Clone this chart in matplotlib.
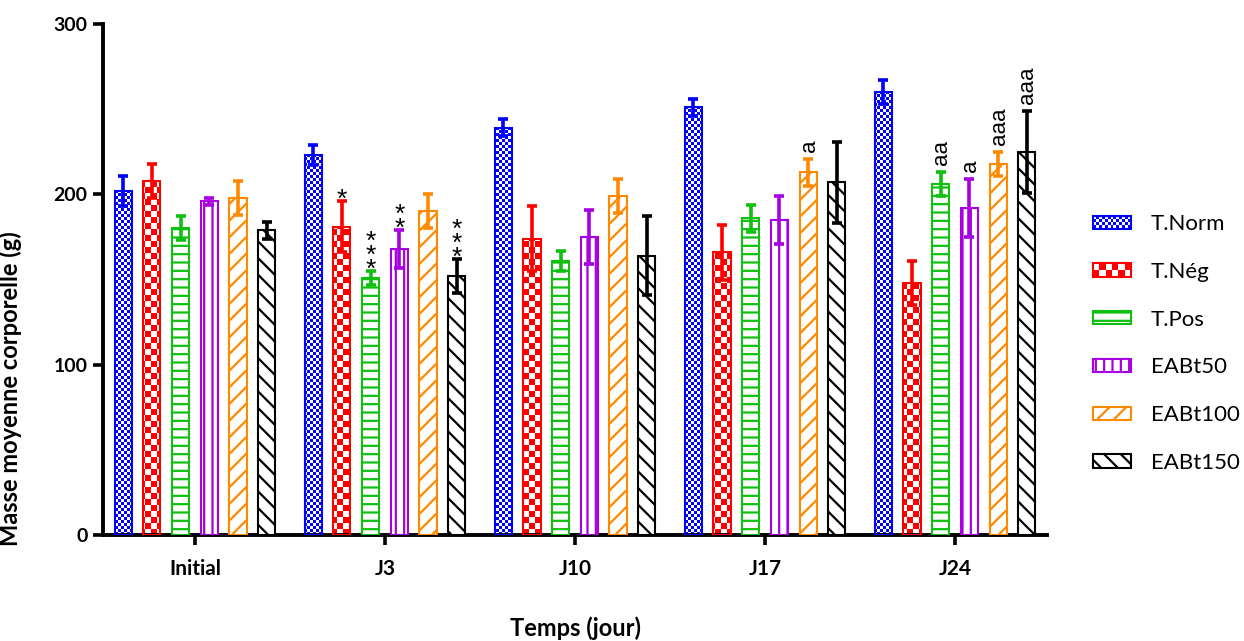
import numpy as np
import matplotlib
matplotlib.use("Agg")
import matplotlib.pyplot as plt
from matplotlib.patches import Rectangle
from matplotlib.path import Path
from matplotlib.legend_handler import HandlerBase

# ---------------- data ----------------
categories = ["Initial", "J3", "J10", "J17", "J24"]
series_names = ["T.Norm", "T.Nég", "T.Pos", "EABt50", "EABt100", "EABt150"]

t_norm = [202, 223, 239, 251, 260]
t_norm_err = [9, 6, 5, 5, 7]
t_neg = [208, 181, 174, 166, 148]
t_neg_err = [10, 15, 19, 16, 13]
t_pos = [180, 151, 161, 186, 206]
t_pos_err = [7, 4, 6, 8, 7]
eabt50 = [196, 168, 175, 185, 192]
eabt50_err = [2, 11, 16, 14, 17]
eabt100 = [198, 190, 199, 213, 218]
eabt100_err = [10, 10, 10, 8, 7]
eabt150 = [179, 152, 164, 207, 225]
eabt150_err = [5, 10, 23, 24, 24]

# significance marks: (series index, category index, text)
star_marks = [(1, 1, "*"), (2, 1, "***"), (3, 1, "**"), (5, 1, "***")]
letter_marks = [(4, 3, "a"), (2, 4, "aa"), (3, 4, "a"), (4, 4, "aaa"), (5, 4, "aaa")]

yticks = [0, 100, 200, 300]

values = [t_norm, t_neg, t_pos, eabt50, eabt100, eabt150]
errors = [t_norm_err, t_neg_err, t_pos_err, eabt50_err, eabt100_err, eabt150_err]

# ---------------- style ----------------
colors = ["#0000FF", "#FF0000", "#10C010", "#A800E0", "#FF8A00", "#000000"]
# pattern: ("checker", cell_px) or ("hatch", hatch string)
patterns = [("checker", 3), ("checker", 6), ("hatch", "--"), ("hatch", "||"),
            ("hatch", "//"), ("hatch", "\\\\")]

plt.rcParams["hatch.linewidth"] = 1.6
plt.rcParams["font.family"] = ["Lato", "DejaVu Sans"]

DPI = 100
fig = plt.figure(figsize=(12.44, 6.41), dpi=DPI)
ax_l, ax_r, ax_t, ax_b = 103, 1047, 24, 535  # pixel box of axes
W, H = 1244, 641
ax = fig.add_axes([ax_l / W, (H - ax_b) / H, (ax_r - ax_l) / W, (ax_b - ax_t) / H])

xlim = (-0.484, 4.484)
ax.set_xlim(*xlim)
ax.set_ylim(0, 300)

x = np.arange(len(categories))
step = 0.151
width = 0.09
n = len(series_names)

cap_tops = {}
for i, (name, vals, errs, col, pat) in enumerate(zip(series_names, values, errors, colors, patterns)):
    xs = x + (i - (n - 1) / 2) * step
    if pat[0] == "checker":
        bars = ax.bar(xs, vals, width, facecolor="none", edgecolor=col, linewidth=1.5, zorder=3)
        # checkerboard image clipped to the bars
        pw, ph = ax_r - ax_l, ax_b - ax_t
        yy, xx = np.indices((ph, pw))
        cell = pat[1]
        mask = ((yy // cell + xx // cell) % 2) == 0
        rgba = np.ones((ph, pw, 4))
        c = matplotlib.colors.to_rgba(col)
        rgba[mask] = c
        im = ax.imshow(rgba, extent=(xlim[0], xlim[1], 0, 300), origin="lower",
                       interpolation="nearest", aspect="auto", zorder=2)
        paths = [b.get_path().transformed(b.get_patch_transform()) for b in bars]
        comp = Path.make_compound_path(*paths)
        im.set_clip_path(comp, ax.transData)
    else:
        ax.bar(xs, vals, width, facecolor="white", edgecolor=col, hatch=pat[1],
               linewidth=1.5, zorder=3)
    ax.errorbar(xs, vals, yerr=errs, fmt="none", ecolor=col, elinewidth=2.6,
                capsize=3.6, capthick=2.6, zorder=4)
    for j in range(len(categories)):
        cap_tops[(i, j)] = (xs[j], vals[j] + errs[j])

# significance stars (stacked vertically, one text each)
for si, ci, txt in star_marks:
    xc, top = cap_tops[(si, ci)]
    ax.annotate("\n".join(txt), xy=(xc, top), xytext=(0, -6), textcoords="offset pixels",
                ha="center", va="baseline", fontsize=19, linespacing=0.48,
                family=["Liberation Sans", "DejaVu Sans"], zorder=5)

# letters (rotated)
for si, ci, txt in letter_marks:
    xc, top = cap_tops[(si, ci)]
    ax.annotate(txt, xy=(xc, top), xytext=(1, 7), textcoords="offset pixels",
                ha="center", va="bottom", rotation=90, fontsize=16,
                family=["Liberation Sans", "DejaVu Sans"], zorder=5)

# ---------------- axes styling ----------------
for s in ["top", "right"]:
    ax.spines[s].set_visible(False)
for s in ["left", "bottom"]:
    ax.spines[s].set_linewidth(2.8)
ax.set_yticks(yticks)
ax.set_xticks(x)
ax.set_xticklabels(categories)
ax.tick_params(axis="both", direction="out", length=7, width=2.6)
ax.tick_params(axis="x", pad=10)
ax.tick_params(axis="y", pad=4)
for lab in ax.get_xticklabels():
    lab.set_fontsize(15)
    lab.set_fontweight("bold")
for lab in ax.get_yticklabels():
    lab.set_fontsize(14)
    lab.set_fontweight("bold")

ax.set_ylabel("Masse moyenne corporelle (g)", fontsize=17, fontweight="bold")
ax.yaxis.set_label_coords(-0.086, 0.287)
ax.set_xlabel("Temps (jour)", fontsize=17, fontweight="bold")
ax.xaxis.set_label_coords(0.5, -0.16)


# ---------------- legend ----------------
class CheckerHandler(HandlerBase):
    def __init__(self, color, cell_px):
        super().__init__()
        self.color = color
        self.cell = cell_px * 72.0 / DPI

    def create_artists(self, legend, orig_handle, xdescent, ydescent, width, height,
                       fontsize, trans):
        x0, y0 = -xdescent, -ydescent
        nx = max(1, int(round(width / self.cell)))
        ny = max(1, int(round(height / self.cell)))
        cw, ch = width / nx, height / ny
        arts = [Rectangle((x0, y0), width, height, facecolor="white", edgecolor="none",
                          transform=trans)]
        for a in range(nx):
            for b in range(ny):
                if (a + b) % 2 == 0:
                    arts.append(Rectangle((x0 + a * cw, y0 + b * ch), cw, ch,
                                          facecolor=self.color, edgecolor="none",
                                          transform=trans))
        arts.append(Rectangle((x0, y0), width, height, facecolor="none",
                              edgecolor=self.color, linewidth=1.5, transform=trans))
        return arts


handles = []
hmap = {}
for name, col, pat in zip(series_names, colors, patterns):
    if pat[0] == "checker":
        h = Rectangle((0, 0), 1, 1, facecolor="white", edgecolor=col)
        hmap[h] = CheckerHandler(col, pat[1])
    else:
        h = Rectangle((0, 0), 1, 1, facecolor="white", edgecolor=col, hatch=pat[1],
                      linewidth=1.5)
    handles.append(h)

leg = fig.legend(handles, series_names, handler_map=hmap, loc="upper left",
                 bbox_to_anchor=(1093 / W, 1 - 214 / H), frameon=False,
                 fontsize=16, handlelength=1.71, handleheight=0.54,
                 handletextpad=0.9, labelspacing=1.25, borderpad=0, borderaxespad=0)

fig.savefig("out.png", dpi=DPI)
